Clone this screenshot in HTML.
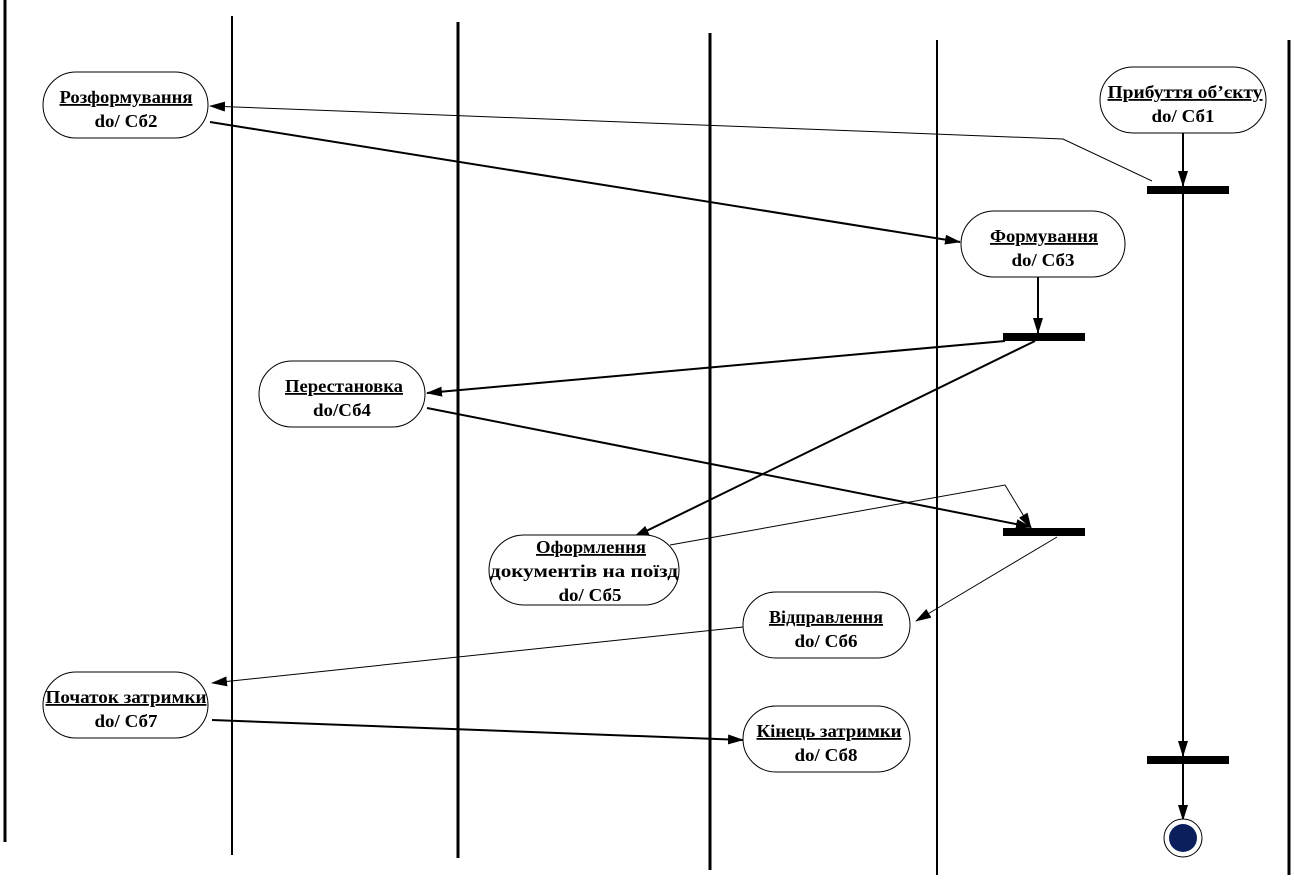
<!DOCTYPE html>
<html><head><meta charset="utf-8"><style>
body{margin:0;background:#fff;}
svg{display:block;}
text{font-family:"Liberation Serif",serif;font-size:18px;font-weight:bold;text-anchor:middle;fill:#000;}
</style></head><body>
<svg width="1294" height="881" viewBox="0 0 1294 881">
<defs>
<marker id="a" markerWidth="16" markerHeight="10" refX="15" refY="5" orient="auto" markerUnits="userSpaceOnUse">
<path d="M0,0 L16,5 L0,10 z" fill="#000"/></marker>
</defs>
<g stroke="#000" stroke-width="3">
<line x1="5" y1="0" x2="5" y2="842"/>
<line x1="232" y1="16" x2="232" y2="855" stroke-width="2"/>
<line x1="458" y1="22" x2="458" y2="858"/>
<line x1="710" y1="33" x2="710" y2="870"/>
<line x1="937" y1="40" x2="937" y2="875" stroke-width="2"/>
<line x1="1289" y1="40" x2="1289" y2="875"/>
</g>
<g fill="#000">
<rect x="1147" y="186" width="82" height="8"/>
<rect x="1003" y="333" width="82" height="8"/>
<rect x="1003" y="528" width="82" height="8"/>
<rect x="1147" y="756" width="82" height="8"/>
</g>
<g stroke="#000" fill="none">
<line x1="1183" y1="133" x2="1183" y2="186" stroke-width="2" marker-end="url(#a)"/>
<polyline points="1152,181 1063,139 210,106" stroke-width="1" marker-end="url(#a)"/>
<line x1="210" y1="122" x2="960" y2="242" stroke-width="2" marker-end="url(#a)"/>
<line x1="1038" y1="277" x2="1038" y2="333" stroke-width="2" marker-end="url(#a)"/>
<line x1="1005" y1="341" x2="427" y2="393" stroke-width="2" marker-end="url(#a)"/>
<line x1="1035" y1="341" x2="634" y2="537" stroke-width="2" marker-end="url(#a)"/>
<line x1="427" y1="408" x2="1031" y2="527" stroke-width="2" marker-end="url(#a)"/>
<polyline points="670,545 1005,485 1031,528" stroke-width="1" marker-end="url(#a)"/>
<line x1="1057" y1="537" x2="916" y2="621" stroke-width="1" marker-end="url(#a)"/>
<line x1="743" y1="627" x2="212" y2="683" stroke-width="1" marker-end="url(#a)"/>
<line x1="212" y1="720" x2="743" y2="740" stroke-width="2" marker-end="url(#a)"/>
<line x1="1183" y1="194" x2="1183" y2="756" stroke-width="2" marker-end="url(#a)"/>
<line x1="1183" y1="764" x2="1183" y2="820" stroke-width="2" marker-end="url(#a)"/>
</g>
<g fill="#fff" stroke="#000" stroke-width="1">
<rect x="43" y="72" width="165" height="66" rx="33"/>
<rect x="1100" y="67" width="166" height="66" rx="33"/>
<rect x="961" y="211" width="164" height="66" rx="33"/>
<rect x="259" y="361" width="166" height="66" rx="33"/>
<rect x="489" y="535" width="190" height="70" rx="35"/>
<rect x="743" y="592" width="167" height="66" rx="33"/>
<rect x="43" y="672" width="165" height="66" rx="33"/>
<rect x="743" y="706" width="167" height="66" rx="33"/>
</g>
<circle cx="1183" cy="838" r="19" fill="#fff" stroke="#000" stroke-width="1"/>
<circle cx="1183" cy="838" r="14" fill="#0a1f5c"/>
<text x="126" y="103" text-decoration="underline" textLength="133" lengthAdjust="spacingAndGlyphs">Розформування</text><text x="126" y="127" textLength="63" lengthAdjust="spacingAndGlyphs">do/ Сб2</text>
<text x="1185" y="98" text-decoration="underline" textLength="155" lengthAdjust="spacingAndGlyphs">Прибуття об’єкту</text><text x="1183" y="122" textLength="63" lengthAdjust="spacingAndGlyphs">do/ Сб1</text>
<text x="1044" y="242" text-decoration="underline" textLength="108" lengthAdjust="spacingAndGlyphs">Формування</text><text x="1043" y="266" textLength="63" lengthAdjust="spacingAndGlyphs">do/ Сб3</text>
<text x="344" y="392" text-decoration="underline" textLength="118" lengthAdjust="spacingAndGlyphs">Перестановка</text><text x="342" y="416" textLength="58" lengthAdjust="spacingAndGlyphs">do/Сб4</text>
<text x="591" y="553" text-decoration="underline" textLength="110" lengthAdjust="spacingAndGlyphs">Оформлення</text><text x="584" y="577" textLength="188" lengthAdjust="spacingAndGlyphs">документів на поїзд</text><text x="590" y="601" textLength="63" lengthAdjust="spacingAndGlyphs">do/ Сб5</text>
<text x="826" y="623" text-decoration="underline" textLength="114" lengthAdjust="spacingAndGlyphs">Відправлення</text><text x="826" y="647" textLength="63" lengthAdjust="spacingAndGlyphs">do/ Сб6</text>
<text x="126" y="703" text-decoration="underline" textLength="161" lengthAdjust="spacingAndGlyphs">Початок затримки</text><text x="126" y="727" textLength="63" lengthAdjust="spacingAndGlyphs">do/ Сб7</text>
<text x="829" y="737" text-decoration="underline" textLength="145" lengthAdjust="spacingAndGlyphs">Кінець затримки</text><text x="826" y="761" textLength="63" lengthAdjust="spacingAndGlyphs">do/ Сб8</text>
</svg>
</body></html>
